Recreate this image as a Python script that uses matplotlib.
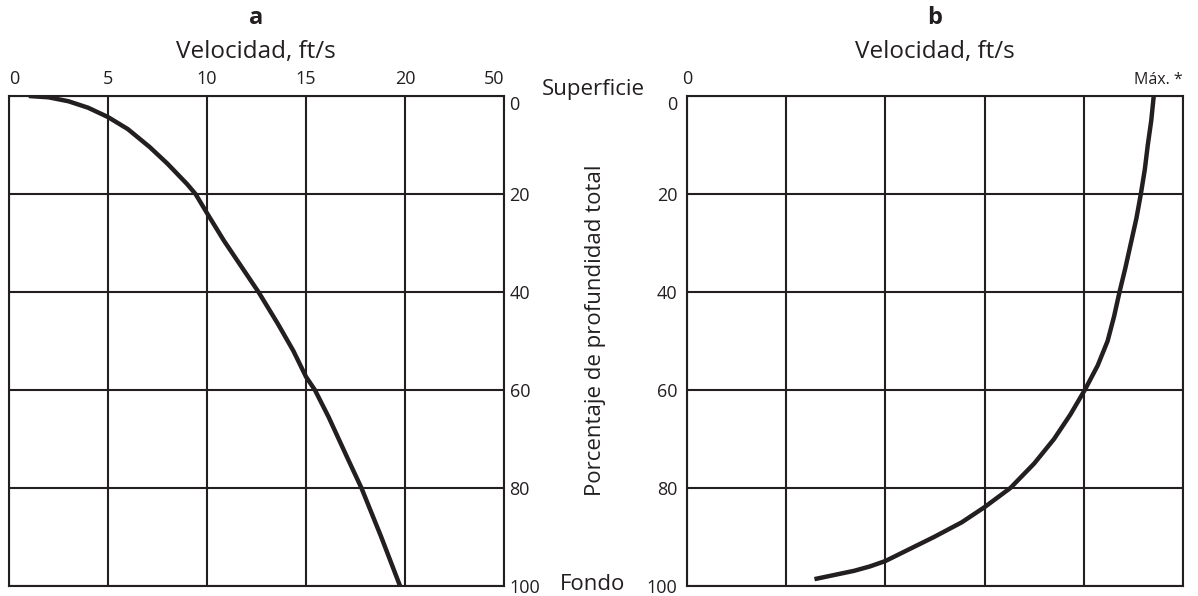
import matplotlib.pyplot as plt

plt.rcParams['font.family'] = ['Open Sans', 'DejaVu Sans']
ink = '#231f20'

# panel a: velocity (ft/s) vs percent of total depth
prof_a = [0, 0.27, 1.07, 2.4, 4.3, 6.75, 10.4, 13.8, 18.0, 20, 23.9, 29.5, 35.8,
          40, 46.5, 52, 57.3, 60, 65.5, 73.5, 80, 90, 100]
vel_a = [1.0, 2.0, 3.0, 4.0, 5.0, 6.0, 7.1, 8.0, 9.0, 9.42, 10.0, 10.85, 11.9,
         12.6, 13.58, 14.36, 15.0, 15.45, 16.14, 17.05, 17.8, 18.8, 19.75]
ticks_a = [0, 5, 10, 15, 20, 25]
labels_a = ['0', '5', '10', '15', '20', '50']

# panel b: velocity as % of maximum
prof_b = [0, 5, 10, 15, 20, 25, 30, 35, 40, 45, 50, 55, 60, 65, 70, 75, 80,
          83.9, 87, 90, 92.6, 94.9, 96, 96.9, 98.6]
vel_b = [94.1, 93.6, 92.9, 92.3, 91.5, 90.6, 89.5, 88.4, 87.2, 86.1, 84.8, 82.8,
         80.2, 77.3, 74.0, 70.0, 65.2, 60.0, 55.4, 49.8, 44.6, 40.0, 36.9, 33.7, 25.7]
ticks_b = [0, 20, 40, 60, 80, 100]

depth_ticks = [0, 20, 40, 60, 80, 100]

fig = plt.figure(figsize=(11.98, 5.96), dpi=100)
ax_a = fig.add_axes([9 / 1198, 10 / 596, 495 / 1198, 490 / 596])
ax_b = fig.add_axes([687 / 1198, 10 / 596, 496 / 1198, 490 / 596])

for ax in (ax_a, ax_b):
    ax.set_ylim(100, 0)
    ax.set_yticks(depth_ticks)
    ax.grid(True, color=ink, lw=1.5)
    ax.set_axisbelow(True)
    for s in ax.spines.values():
        s.set_color(ink)
        s.set_linewidth(1.5)
    ax.xaxis.tick_top()
    ax.tick_params(length=0, labelsize=13, colors=ink)

# panel a
ax_a.set_xlim(0, 25)
ax_a.set_xticks(ticks_a)
ax_a.set_xticklabels(labels_a)
ax_a.tick_params(axis='x', pad=6)
ax_a.yaxis.tick_right()
ax_a.tick_params(axis='y', pad=4)
xl = ax_a.get_xticklabels()
xl[0].set_ha('left')
xl[-1].set_ha('right')
ax_a.get_yticklabels()[0].set_va('top')
ax_a.plot(vel_a, prof_a, color=ink, lw=3.2, solid_capstyle='butt', solid_joinstyle='round')

# panel b
ax_b.set_xlim(0, 100)
ax_b.set_xticks(ticks_b)
ax_b.set_xticklabels(['0', '', '', '', '', 'Máx. *'])
ax_b.tick_params(axis='x', pad=6)
ax_b.tick_params(axis='y', pad=7)
xl = ax_b.get_xticklabels()
xl[-1].set_ha('right')
xl[-1].set_fontsize(11.5)
ax_b.get_yticklabels()[0].set_va('top')
ax_b.plot(vel_b, prof_b, color=ink, lw=3.2, solid_capstyle='butt', solid_joinstyle='round')

# titles
for cx, letter in ((256, 'a'), (935, 'b')):
    fig.text(cx / 1198, 1 - 18 / 596, letter, ha='center', va='center',
             fontsize=17, fontweight='bold', color=ink)
    fig.text(cx / 1198, 1 - 52 / 596, 'Velocidad, ft/s', ha='center', va='center',
             fontsize=17.5, color=ink)

fig.text(593 / 1198, 1 - 89 / 596, 'Superficie', ha='center', va='center', fontsize=16, color=ink)
fig.text(593 / 1198, 1 - 584 / 596, 'Fondo', ha='center', va='center', fontsize=16, color=ink)
fig.text(595 / 1198, 1 - 330 / 596, 'Porcentaje de profundidad total', rotation=90,
         ha='center', va='center', fontsize=16, color=ink)

fig.savefig('out.png', dpi=100)
